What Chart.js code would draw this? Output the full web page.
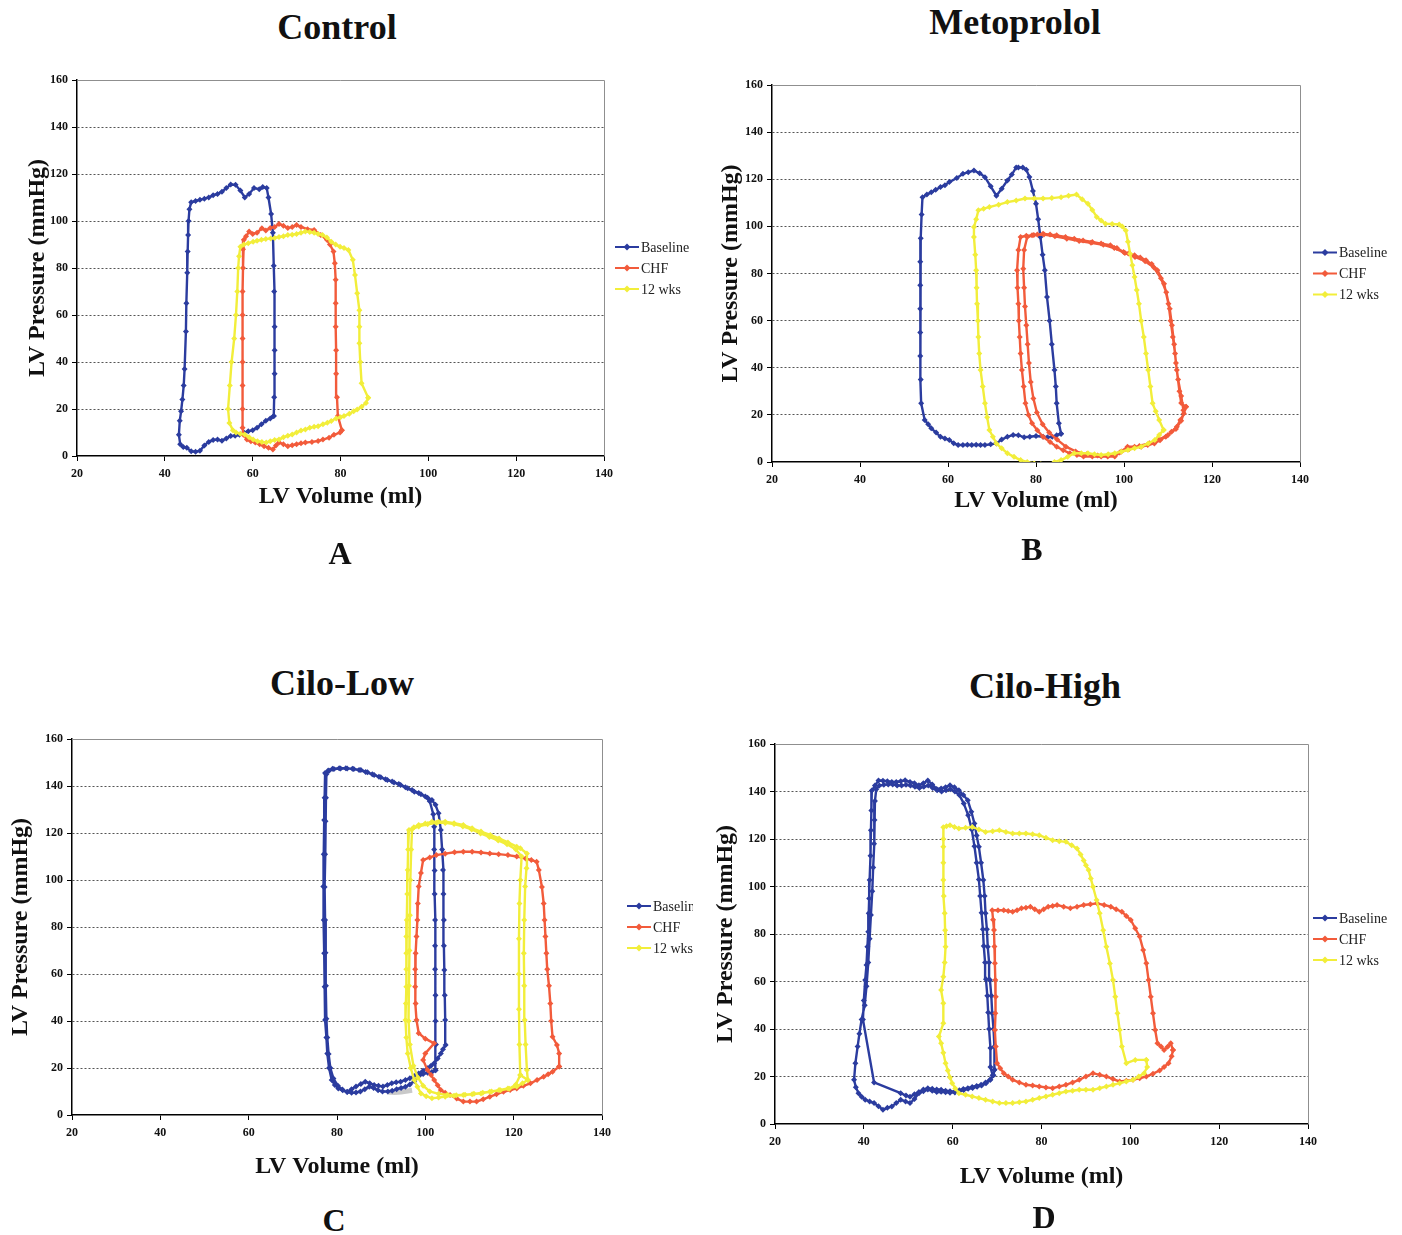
<!DOCTYPE html>
<html>
<head>
<meta charset="utf-8">
<script src="https://cdn.jsdelivr.net/npm/chart.js@4.4.0/dist/chart.umd.min.js"></script>
<style>
  body { margin: 0; background: #fff; width: 1402px; height: 1235px; position: relative; overflow: hidden; font-family: "Liberation Serif", serif; }
  canvas { position: absolute; }
  .ttl { position: absolute; font-weight: bold; font-size: 36px; transform: translate(-50%, -50%); white-space: nowrap; color: #111; }
  .let { position: absolute; font-weight: bold; font-size: 32px; transform: translate(-50%, -50%); color: #111; }
</style>
</head>
<body>
<script>
// ---- data: [LV volume (ml), LV pressure (mmHg)] ----
const seriesLabels = ['Baseline', 'CHF', '12 wks'];
const panelTitles = ['Control', 'Metoprolol', 'Cilo-Low', 'Cilo-High'];
const panelLetters = ['A', 'B', 'C', 'D'];
const xAxisTitle = 'LV Volume (ml)';
const yAxisTitle = 'LV Pressure (mmHg)';
const volRange = [20, 140];
const presRange = [0, 160];

// A - Control
const aBaseline = [[64.8,17],[64.9,25],[65,35],[65,45],[65,55],[64.9,70],[64.8,81],[64.6,95],[64.2,103],[63.6,110],[63.2,114],[62.3,114.5],[61.5,113.5],[60.3,114],[59.2,111.5],[58.2,110],[57.2,113],[56.1,115.4],[55,115.5],[54,114],[53,112.5],[52,111.5],[51,111],[50,110],[49,109.5],[48,109],[47,108.5],[46,108],[45.6,105],[45.4,100],[45.3,94],[45.2,87],[45.1,78],[44.9,65],[44.8,53],[44.5,37],[44.3,30],[44,24],[43.7,19],[43.4,15],[43.2,9],[43.5,5],[44.2,3.8],[45,3.5],[46,2],[47,1.8],[48,2.2],[49,4.5],[50,6],[51,6.8],[52,7],[53,6.5],[54,7.5],[55,8.5],[56,8.6],[57,9],[58,10],[59,10.5],[60,11],[61,12],[62,13.5],[63,15],[64,16],[64.8,17]];
const aChf = [[80.3,11],[79.4,17],[79.2,25],[79,35],[79,45],[78.9,55],[78.9,65],[78.9,75],[78.7,82],[78.4,87],[77.6,90],[76.9,92],[75.5,94],[74,96.2],[72.5,96.5],[71,97.5],[70,98.3],[69,97.5],[68,97],[67,98],[66,98.7],[65,97.5],[64,97],[63,96],[62.1,96.9],[61,95],[60,94.5],[59.2,95.5],[58.5,93.5],[58,92],[57.8,88],[57.8,80],[57.7,70],[57.7,60],[57.7,50],[57.7,40],[57.7,30],[57.7,20],[57.7,12],[57.9,9],[58.7,7],[59.6,6.3],[60.6,5.7],[61.6,5],[62.6,4.2],[63.6,3.5],[64.6,2.8],[65.3,4.5],[66,5.7],[67,5],[68,4.2],[69,4.6],[70,5],[71,5.4],[72,5.7],[73.5,6],[74.9,6.4],[76,7],[77.4,7.8],[78.5,9],[79.9,10],[80.3,11]];
const aWks = [[86.3,24.8],[84.8,31],[84.5,40],[84.3,48],[84.3,55],[84.3,62],[83.8,69.3],[83.3,77],[82.8,83.5],[81.8,87.7],[80.8,88.5],[79.9,89],[78.9,90],[77.9,91.2],[76.9,93],[75.9,94],[74.9,94.5],[74,95],[73,95.3],[72,95.5],[71,95],[70,94.5],[69,94.2],[68,94],[67,93.5],[66,93.2],[65,92.8],[64.1,92.6],[63,92.3],[62,92],[61,91.6],[60.1,91.2],[59,90.5],[58,90],[57.2,89],[56.9,85],[56.7,80],[56.5,70],[56.2,60],[55.8,50],[55.2,40],[54.8,30],[54.4,20],[54.7,14],[55.5,11],[56.2,10],[57.2,9.5],[58.2,9.2],[59.2,8],[60.1,7],[61.1,6.3],[62.1,6],[63.1,5.7],[64,6.3],[65,6.8],[66,7],[67,8],[68,8.6],[69,9.2],[70,10],[71,10.8],[72,11.3],[73,12],[74,12.4],[74.9,12.7],[76,13.5],[77,14.2],[77.9,14.9],[79,16],[80,16.5],[80.8,17],[82,18],[83,19],[83.8,19.8],[84.8,21],[85.8,22.6],[86.3,24.8]];

// B - Metoprolol
const bBaseline = [[85.7,12],[85.2,16.4],[84.7,24.9],[84.5,32],[84.2,39],[83.6,50],[83.1,60],[82.5,70],[82,81.4],[81.5,88],[81,95.5],[80.5,103],[80,109.6],[79.3,115],[78.5,121],[77.8,124],[77,125],[76,125],[75.5,125],[74.5,122],[73.5,119.5],[72.2,116],[71,113],[69.7,117],[68.4,120.9],[67.2,122.5],[65.9,123.7],[64.6,123],[63.4,122.3],[62,120.5],[60.3,118.8],[59.3,117.5],[58.3,116.7],[57.2,115.5],[56.2,114.5],[55.2,113.5],[54.2,112.4],[54,105],[53.8,95],[53.7,85],[53.7,75],[53.7,65],[53.7,55],[53.7,45],[53.8,35],[53.9,24.9],[54.7,17.8],[55.5,16],[56.2,14.3],[57.3,12.5],[58.3,10.7],[59.3,10],[60.3,9.3],[61.3,8],[62.3,7.2],[63.4,7.2],[64.4,7.3],[65.4,7.2],[66.4,7.3],[67.4,7.2],[68.4,7.2],[69.7,7.5],[71,7.9],[72.2,9.5],[73.5,10.7],[74.8,11.5],[76,11.4],[77.3,10.5],[78.6,10.7],[80,11],[81.6,10.7],[82.6,10.5],[83.7,10.7],[84.7,11.3],[85.7,12]];
const bChf = [[114.1,23.4],[113,25],[112.6,30],[112,39],[111.6,46],[111.1,53.1],[110.6,60],[110.1,67.2],[109.1,75.7],[107.6,81.4],[106.3,84],[105,85.6],[103.7,86.8],[102.4,87.7],[101,88.5],[99.9,89.1],[98.4,90.8],[96.9,92],[94.8,92.7],[92.8,93.4],[90.7,94],[88.7,94.8],[86.7,95.5],[84.7,96.2],[83.2,96.5],[81.6,96.9],[80.3,96.5],[79.1,96.2],[77.8,96],[76.5,95.5],[76,90],[75.7,81.4],[75.8,74],[76,67.2],[76.1,60],[76.3,53.1],[76.5,46],[76.8,39],[77.2,32],[77.6,24.9],[78.3,20],[79.1,16.4],[80.3,13.5],[81.6,10.7],[83.2,8.5],[84.7,6.5],[86.2,5],[87.7,3.7],[89.3,3],[90.8,2.3],[92.8,2.3],[94.8,2.3],[96.3,2.3],[97.9,2.3],[99.4,4.5],[100.8,6.5],[102.4,6.5],[103.9,6.5],[105.4,7.2],[106.9,7.9],[108.2,9.2],[109.5,10.7],[110.8,12.8],[112,15],[112.8,17.8],[113.6,20.6],[113.5,22],[113,28],[112.3,35],[111.8,42],[111.4,50],[110.9,58],[110.4,65],[109.6,72],[108.4,78],[106.8,82.5],[104.8,85.2],[102.5,87],[100.2,88.7],[97.8,90.8],[95.3,92.2],[92.5,93],[89.8,93.8],[87,94.8],[84.3,95.8],[81.8,96.5],[79.5,96.3],[78,95.5],[77.3,90],[77.1,82],[77.3,74],[77.5,66],[77.8,58],[78.1,50],[78.4,42],[78.8,34],[79.4,27],[80.2,21],[81.5,16],[83,12.5],[84.8,9.5],[86.8,6.5],[89,4.5],[91.5,3.3],[94,2.8],[96.5,3],[99,4],[101.2,5.5],[103.5,6.8],[105.8,8],[108,9.5],[110,11.5],[111.8,14],[113,17.5],[114.1,23.4]];
const bWks = [[109,13.6],[108,17.8],[107.2,21.5],[106.5,24.9],[106,32],[105.5,39],[105,46],[104.5,53.1],[103.9,60],[103.4,67.2],[102.9,73],[102.4,78.5],[101.9,83.5],[101.4,88.4],[100.9,93.5],[100.4,98.3],[99.6,100],[98.9,100.8],[97.3,101],[95.8,101.1],[94.8,102.5],[93.8,104],[92.8,107],[91.8,109.6],[90.5,111.5],[89.2,113.5],[87.4,113],[85.7,112.4],[83.6,112],[81.6,111.8],[79.6,111.8],[77.5,111.8],[75.5,111],[73.5,110.3],[71.5,109.2],[69.4,108.2],[68.1,107.5],[66.9,106.8],[66.4,103],[65.9,99.7],[65.9,95.5],[66.2,88],[66.4,81.4],[66.5,74],[66.6,67.2],[66.8,60],[66.9,53.1],[67.1,46],[67.4,39],[67.9,32],[68.4,24.9],[68.9,19],[69.4,13.6],[70.2,10.7],[71,7.9],[72.2,5.8],[73.5,3.7],[75,2.2],[76.5,0.8],[78,0],[79.6,-0.6],[81.1,-1],[82.6,-1.3],[84.2,0],[85.7,0.8],[87.2,2.2],[88.7,3.7],[90.3,3.7],[91.8,3.7],[93.3,3.3],[94.8,3],[96.4,3.3],[97.9,3.7],[99.4,4.4],[100.9,5.1],[102.4,5.8],[103.9,6.5],[105.5,7.9],[107,9.3],[108,11.5],[109,13.6]];

// C - Cilo-Low
const cBaseline = [[102.3,19],[102.4,30],[102.3,40],[102.3,51],[102.2,62],[102.2,72],[102.2,83],[102.1,94],[102.1,104],[102,113],[102,122.7],[101.8,128],[101,133.5],[100,135.5],[98.5,137],[97,138.3],[95.5,139.5],[94,140.8],[92.5,141.9],[91,142.9],[89.5,143.9],[88,145],[86.5,146],[85,146.8],[83.5,147.3],[82,147.6],[80.5,147.6],[79,147.3],[78,146.6],[77.3,145.5],[77.2,135],[77.1,125.5],[77,111],[76.9,97.2],[77,83],[77.1,68.8],[77.2,54.6],[77.3,40.4],[77.6,33],[77.8,26.2],[78.2,20],[78.8,14.9],[79.5,12.8],[80.3,11.3],[81.3,10.5],[82.3,9.9],[83.3,11],[84.3,12.1],[85.4,13.2],[86.4,14.2],[87.4,13.5],[88.4,12.8],[89.4,12.4],[90.4,12.1],[91.4,12.8],[92.4,13.5],[93.4,13.9],[94.4,14.2],[95.5,14.9],[96.5,15.6],[97.5,16.6],[98.5,17.7],[99.5,18.8],[100.5,19.9],[101.3,21],[102,22],[102.8,24],[103.5,26.2],[104,28],[104.6,29.8],[104.5,40.4],[104.4,51],[104.3,61.7],[104.2,72],[104.2,83],[104.1,94],[104,104.3],[103.8,113],[103.5,121.3],[103,128.4],[102.3,132],[101.5,134],[100.5,135],[99,136.5],[97.5,137.6],[96,139],[94.4,140.4],[92.9,141.5],[91.4,142.6],[89.9,143.7],[88.4,144.7],[86.9,145.8],[85.4,146.8],[83.8,147.2],[82.3,147.5],[80.8,147.4],[79.3,147.2],[78.2,146.5],[77.6,145],[77.5,135],[77.4,125],[77.3,111],[77.2,97],[77.3,83],[77.4,69],[77.5,55],[77.6,41],[77.8,33],[78.1,26],[78.5,20],[79.2,15.5],[80.2,12.5],[81.2,10.8],[82.3,9.8],[83.3,9.5],[84.3,9.6],[85.3,10],[86.3,11],[87.3,12],[88.3,11.5],[89.3,10.5],[90.3,10],[91.5,10],[92.5,10.3],[93.5,11],[94.5,11.5],[95.5,12],[96.5,13],[97.5,14.5],[98.5,16.5],[99.5,17.5],[100.5,18],[101.5,18.3],[102.3,19]];
const cChf = [[130.3,20.6],[130.3,26.2],[129.8,29.8],[128.8,33.3],[128.5,40],[128.3,47.5],[128,55],[127.6,62],[127.4,68.8],[127.2,76],[127,83],[126.8,90],[126.4,97],[125.7,104.3],[125.2,107.8],[124,108.5],[122.7,109.2],[120.7,110],[118.7,110.6],[116.6,111],[114.6,111.3],[112.6,111.7],[110.6,112],[108.6,112],[106.6,111.8],[104.5,111.2],[102.5,110.6],[101,109.6],[99.5,108.5],[99,103],[98.5,97.2],[98.3,90],[98.2,83],[98,76],[97.8,68.8],[97.7,62],[97.7,54.6],[97.8,47.5],[98,40.4],[98.5,34.8],[100,32.5],[102,30.5],[100,26.2],[99.5,23.4],[100.5,19.1],[101.3,17],[102,14.9],[102.8,12.7],[103.5,10.6],[104.5,9.5],[105.6,8.5],[107.1,7],[108.6,5.7],[110.1,5.7],[111.6,5.7],[113.1,6.7],[114.6,7.8],[116.1,8.8],[117.7,9.9],[119.2,10.6],[120.7,11.3],[122.2,12.4],[123.8,13.5],[125.3,14.9],[126.8,16.3],[127.8,17.3],[128.8,18.4],[130.3,20.6]];
const cWks = [[123.2,14.9],[123,19.1],[122.7,30],[122.5,40.4],[122.4,55],[122.3,68.8],[122.4,83],[122.6,97.2],[122.9,105],[123,111.3],[121.5,113.5],[120.7,114.2],[118.7,116],[116.7,117.7],[114.7,119.2],[112.6,120.6],[110.6,122],[108.6,123.4],[106.5,124.2],[104.5,124.8],[103,124.8],[101.5,124.8],[100,124],[98.5,123.4],[97.4,122.4],[96.3,121.3],[96.1,113],[96,104.3],[95.9,94],[95.8,83],[95.7,76],[95.7,68.8],[95.7,62],[95.7,54.6],[95.6,47.5],[95.5,40.4],[95.7,33],[96,26.2],[96.7,20],[97.5,14.9],[98.2,12],[99,9.2],[100.2,8],[101.5,7.1],[103,7.4],[104.5,7.8],[106.5,8.2],[108.6,8.5],[110.6,8.8],[112.6,9.2],[114.6,9.9],[116.7,10.6],[118.7,11.3],[120.7,12.1],[122,13.5],[123.2,14.9],[121.5,17],[121.3,30],[121.2,45],[121.2,60],[121.2,75],[121.3,90],[121.5,100],[121.8,110],[120.5,113],[118.5,115.2],[116.5,116.8],[114.5,118.3],[112.5,119.8],[110.5,121.5],[108.5,122.8],[106.5,123.8],[104.5,124.3],[102.5,124.3],[100.5,123.7],[98.5,122.8],[97,121.6],[96.8,113],[96.6,100],[96.5,85],[96.4,70],[96.3,55],[96.2,40],[96.5,30],[97.3,21],[98.3,16],[99.5,12.5],[101,10],[103,9],[105,8.6],[107,8.4],[109,8.6],[111,9],[113,9.5],[115,10],[117,10.5],[119,11.2],[120.5,13],[121.5,17]];
// faint grey trace under the loops (no legend entry)
const cGrey = [[91.5,9.8],[93,9.6],[94.5,9.8],[96,10.2],[97,10.5]];

// D - Cilo-High
const dBaseline = [[69.4,22.8],[69.4,32.6],[69.2,40],[68.9,46.6],[68.7,54],[68.4,60.6],[68.2,68],[67.9,74.6],[67.7,82],[67.4,88.7],[67.2,96],[66.9,102.7],[66.4,110],[65.9,116.7],[65.4,121.5],[64.9,126.5],[64.2,131.5],[63.4,136.3],[62.4,138.5],[61.4,140.5],[60.4,141.8],[59.4,142.6],[58.4,141.8],[57.4,141.3],[56.4,141.1],[55.4,143],[54.4,144.6],[53.4,143.5],[52.4,142.6],[51.4,143.5],[50.4,144],[49.3,144.7],[48.3,144.3],[47.3,144],[46.3,144],[45.3,144.3],[44.3,144.5],[43.3,144.6],[42.5,142.5],[41.8,140.4],[41.7,132],[41.6,123.7],[41.5,113],[41.3,102.7],[41.2,95],[41.1,88.7],[41,81],[40.8,74.6],[40.6,67],[40.3,60.6],[40,52],[39.8,44],[42.3,17.5],[48.3,13],[49.5,12],[50.4,11.5],[51.4,12.5],[52.4,13.5],[53.4,14.5],[54.4,15.1],[55.4,14.8],[56.4,14.5],[57.4,14.4],[58.4,14],[59.4,13.8],[60.5,13.7],[61.5,14.2],[62.4,14.7],[63.4,15.1],[64.4,15.6],[65.4,16],[66.4,16.5],[67.4,17.5],[68.4,18.6],[69,20.5],[68.5,24],[68.5,32],[68.2,40],[68,47],[67.8,54],[67.5,61],[67.3,68],[67,75],[66.8,82],[66.5,89],[66.2,96],[65.9,103],[65.4,110],[64.9,117],[64.3,124],[63.5,130],[62.5,135],[61.5,138.5],[60.5,140],[59.5,141],[58.5,140.5],[57.5,140],[56.5,140.5],[55.5,141.5],[54.5,142.5],[53.5,142],[52.5,141.5],[51.5,142],[50.5,142.5],[49.5,142.8],[48.5,142.5],[47.5,142.5],[46.5,143],[45.5,143],[44.5,142.8],[43.5,142.5],[42.8,141],[42.5,136],[42.4,128],[42.3,118],[42.1,108],[41.9,98],[41.6,88],[41.3,78],[41,68],[40.6,58],[40.2,50],[39.5,44],[39,38],[38.6,32.6],[38.1,25.6],[37.8,18.6],[38.2,15.5],[38.8,13],[39.5,11.5],[40.3,10.2],[41.3,9.5],[42.3,8.8],[43.3,7.5],[44.3,6],[45.3,6.8],[46.3,7.4],[47.3,8.8],[48.3,10.2],[49.4,9.5],[50.4,8.8],[51.4,10.5],[52.4,13],[53.4,13.8],[54.4,14.5],[55.4,14],[56.4,13.5],[57.4,13.6],[58.4,13.4],[59.4,13.2],[60.5,13.3],[61.5,13.8],[62.5,14.3],[63.5,14.8],[64.5,15.2],[65.5,15.7],[66.5,16.2],[67.5,17.2],[68.5,18.6],[69.2,20.5],[69.4,22.8]];
const dChf = [[109.6,31.2],[109.1,34],[108.4,32.5],[107.6,31.2],[106.9,32.6],[106.1,34],[105.6,39.6],[105.1,46.6],[104.6,53.6],[104.1,60.6],[103.6,67.7],[102.9,73.3],[102.1,78.9],[101.1,82.4],[100.1,85.9],[99.1,87.6],[98.1,89.4],[96.8,90.4],[95.6,91.5],[94.1,92.2],[92.5,92.9],[91,92.5],[89.5,92.2],[88,91.5],[86.5,90.8],[85,91.5],[83.5,92.2],[82.5,91.8],[81.5,91.5],[80.5,90.4],[79.5,89.4],[78.5,90.4],[77.5,91.5],[76.5,91.1],[75.5,90.8],[74.5,90],[73.5,89.4],[72.5,89.7],[71.5,90],[70.2,90],[68.9,90],[69.1,86],[69.3,81.7],[69.4,74.7],[69.5,67.7],[69.6,60.6],[69.7,53.6],[69.6,46.6],[69.5,39.6],[69.7,32.6],[70,25.6],[70.7,23.5],[71.5,21.4],[72.5,20],[73.5,18.6],[75,17.5],[76.5,16.5],[78,16.2],[79.5,15.8],[81,15.4],[82.5,15.1],[84,15.8],[85.5,16.5],[87,17.5],[88.5,18.6],[90,20],[91.6,21.4],[93.1,20.7],[94.6,20],[96.1,18.9],[97.6,17.9],[99.1,18.2],[100.6,18.6],[102.1,19.3],[103.6,20],[105.1,21.2],[106.6,22.5],[107.6,24],[108.6,25.6],[109.3,28.5],[109.6,31.2]];
const dWks = [[103.6,27],[101.1,27],[99.1,25.6],[98.1,32.6],[97.6,39.6],[97.1,46.6],[96.6,53.6],[96.1,60.6],[95.4,67.6],[94.6,74.6],[93.9,81.6],[93.1,88.7],[92.4,94.3],[91.6,99.9],[91.1,103.4],[90.6,106.9],[90,109],[89.5,111],[88.8,113.5],[88,116],[86.8,117.4],[85.5,118.8],[84,119.1],[82.5,119.5],[81,120.5],[79.5,121.6],[78,122],[76.5,122.3],[75,122.3],[73.5,122.3],[72,123],[70.5,123.7],[69,123.3],[67.4,123],[65.9,124],[64.4,125.1],[62.9,124.7],[61.4,124.4],[60.4,125.1],[59.4,125.8],[58.6,125.4],[57.9,125],[57.9,120],[57.9,116.7],[57.9,110],[57.9,102.7],[58,96],[58.2,88.7],[58.3,81.6],[58.4,74.6],[58.2,68],[57.9,62],[57.4,56.4],[57.9,50.8],[57.9,42.4],[56.9,36.8],[57.4,34],[57.9,30],[58.4,25.6],[58.9,22.5],[59.4,19.6],[59.9,17.2],[60.6,15],[61.4,13],[62.9,12.3],[64.4,11.6],[65.9,10.9],[67.4,10.2],[69,9.5],[70.5,8.8],[72,8.8],[73.5,8.8],[75,9.2],[76.5,9.5],[78,10.2],[79.5,10.9],[81,11.6],[82.5,12.3],[84,13],[85.5,13.7],[87,14],[88.5,14.4],[90,14.4],[91.6,14.4],[93.1,15.1],[94.6,15.8],[96.1,16.5],[97.6,17.2],[99.1,17.9],[100.6,18.6],[101.9,20],[103.1,21.4],[103.8,24],[103.6,27]];

const panelSeries = [
  [aBaseline, aChf, aWks],
  [bBaseline, bChf, bWks],
  [cBaseline, cChf, cWks],
  [dBaseline, dChf, dWks]
];
const panelGrey = [null, null, cGrey, null];

// ---- layout / style (page pixels) ----
const seriesColors = ['#2b3c9f', '#f25b3b', '#f2ee3a'];
const layouts = [
  { plot: [77, 604, 80, 456],    yGap: 39, xGap: 41, legDx: 11, legDy: 0, clipRight: null, title: [337, 27],   letter: [340, 553] },
  { plot: [772, 1300, 85, 462],  yGap: 41, xGap: 39, legDx: 13, legDy: 0, clipRight: null, title: [1015, 22],  letter: [1032, 549] },
  { plot: [72, 602, 739, 1115],  yGap: 51, xGap: 52, legDx: 25, legDy: 0, clipRight: 693,  title: [342, 683],  letter: [334, 1220] },
  { plot: [775, 1308, 744, 1124],yGap: 49, xGap: 53, legDx: 5,  legDy: 5, clipRight: null, title: [1045, 686], letter: [1044, 1217] }
];

const pvFrame = {
  id: 'pvFrame',
  beforeDatasetsDraw(chart) {
    const { ctx, chartArea: a } = chart;
    ctx.save();
    ctx.strokeStyle = '#8f8f8f';
    ctx.lineWidth = 1;
    ctx.beginPath();
    ctx.moveTo(a.left, a.top + 0.5);
    ctx.lineTo(a.right + 0.5, a.top + 0.5);
    ctx.lineTo(a.right + 0.5, a.bottom);
    ctx.stroke();
    ctx.restore();
  }
};

const pvLegend = {
  id: 'pvLegend',
  afterDraw(chart, args, opts) {
    const { ctx, chartArea: a } = chart;
    const x0 = a.right + opts.dx;
    const yc = (a.top + a.bottom) / 2 + opts.dy;
    ctx.save();
    ctx.font = '14px "Liberation Serif"';
    ctx.textBaseline = 'middle';
    chart.data.datasets.filter(ds => ds.label).forEach((ds, i) => {
      const y = yc + (i - 1) * 21;
      ctx.strokeStyle = ds.borderColor;
      ctx.lineWidth = 2;
      ctx.beginPath();
      ctx.moveTo(x0, y);
      ctx.lineTo(x0 + 24, y);
      ctx.stroke();
      ctx.fillStyle = ds.borderColor;
      ctx.beginPath();
      ctx.moveTo(x0 + 12, y - 3.5);
      ctx.lineTo(x0 + 15.5, y);
      ctx.lineTo(x0 + 12, y + 3.5);
      ctx.lineTo(x0 + 8.5, y);
      ctx.closePath();
      ctx.fill();
      ctx.fillStyle = '#222';
      ctx.fillText(ds.label, x0 + 26, y + 1);
    });
    ctx.restore();
  }
};

function addText(cls, text, pos) {
  const d = document.createElement('div');
  d.className = cls;
  d.textContent = text;
  d.style.left = pos[0] + 'px';
  d.style.top = pos[1] + 'px';
  document.body.appendChild(d);
}

const tickFont = { family: 'Liberation Serif', size: 12, weight: 'bold' };
const axisTitleFont = { family: 'Liberation Serif', size: 24, weight: 'bold' };

function makePanel(i) {
  const lay = layouts[i];
  const [pl, pr, pt, pb] = lay.plot;
  const L = pl - 75, T = pt - 20;
  const R = lay.clipRight || pr + 100;
  const B = pb + 80;
  const yw = lay.yGap + 18.4;
  const xh = lay.xGap + 18.4;

  const cv = document.createElement('canvas');
  cv.width = R - L;
  cv.height = B - T;
  cv.style.left = L + 'px';
  cv.style.top = T + 'px';
  document.body.appendChild(cv);

  const datasets = panelSeries[i].map((pts, k) => ({
    label: seriesLabels[k],
    data: pts.map(p => ({ x: p[0], y: p[1] })),
    showLine: true,
    borderColor: seriesColors[k],
    backgroundColor: seriesColors[k],
    borderWidth: 2.4,
    pointStyle: 'rectRot',
    pointRadius: 3,
    pointBorderWidth: 0,
    tension: 0,
    order: 3 - k
  }));
  if (panelGrey[i]) {
    datasets.push({
      label: '',
      data: panelGrey[i].map(p => ({ x: p[0], y: p[1] })),
      showLine: true,
      borderColor: '#c9c9c9',
      backgroundColor: '#c9c9c9',
      borderWidth: 5,
      pointRadius: 0,
      order: 5
    });
  }

  new Chart(cv, {
    type: 'scatter',
    data: { datasets },
    options: {
      responsive: false,
      animation: false,
      layout: { padding: { left: 75 - yw, top: 20, right: R - pr, bottom: 80 - xh } },
      plugins: {
        legend: { display: false },
        tooltip: { enabled: false },
        pvLegend: { dx: lay.legDx, dy: lay.legDy }
      },
      scales: {
        x: {
          type: 'linear',
          min: volRange[0], max: volRange[1],
          afterFit: s => { s.height = xh; },
          ticks: { stepSize: 20, font: tickFont, color: '#111', padding: 6, maxRotation: 0 },
          grid: { drawOnChartArea: false, drawTicks: true, tickLength: 5, tickColor: '#000', color: '#000' },
          border: { display: true, color: '#000', width: 1.5 },
          title: { display: true, text: xAxisTitle, font: axisTitleFont, color: '#111', padding: { top: 4, bottom: 4 } }
        },
        y: {
          type: 'linear',
          min: presRange[0], max: presRange[1],
          afterFit: s => { s.width = yw; },
          ticks: { stepSize: 20, font: tickFont, color: '#111', padding: 4 },
          grid: {
            drawTicks: true, tickLength: 5, tickColor: '#000', lineWidth: 1,
            color: c => (c.tick && (c.tick.value === presRange[0] || c.tick.value === presRange[1])) ? 'rgba(0,0,0,0)' : '#555'
          },
          border: { display: true, color: '#000', width: 1.5, dash: [2, 2] },
          title: { display: true, text: yAxisTitle, font: axisTitleFont, color: '#111', padding: { top: 4, bottom: 4 } }
        }
      }
    },
    plugins: [pvFrame, pvLegend]
  });

  addText('ttl', panelTitles[i], lay.title);
  addText('let', panelLetters[i], lay.letter);
}

for (let i = 0; i < 4; i++) makePanel(i);
</script>
</body>
</html>
